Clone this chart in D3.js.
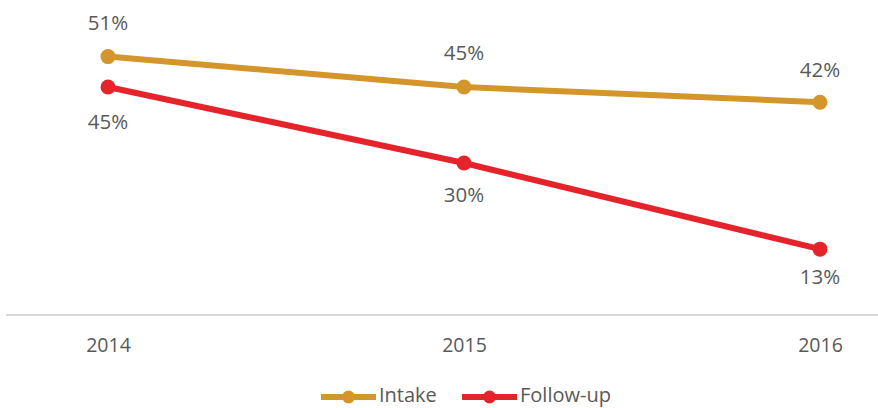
<!DOCTYPE html>
<html>
<head>
<meta charset="utf-8">
<script src="https://cdn.jsdelivr.net/npm/d3@7"></script>
<style>
  html, body { margin: 0; padding: 0; background: #ffffff; }
  svg { display: block; }
  text { font-family: "Open Sans", sans-serif; fill: #595959; }
</style>
</head>
<body>
<svg id="chart" width="878" height="408"></svg>
<script>
const years = ["2014", "2015", "2016"];
const intake = [51, 45, 42];
const followUp = [45, 30, 13];
const seriesNames = ["Intake", "Follow-up"];
const seriesColors = ["#D4952B", "#E4232B"];

// layout: per-point label nudges (pixels), kept separate from data
const intakeLabelDy = [-32, -32, -31];
const followLabelDy = [37, 34, 29];

const svg = d3.select("#chart");
const x = d3.scalePoint().domain(years).range([108, 820]);
const y = d3.scaleLinear().domain([0, 60]).range([315, 11]);

// baseline
svg.append("line")
  .attr("x1", 6).attr("x2", 878)
  .attr("y1", y(0)).attr("y2", y(0))
  .attr("stroke", "#d9d9d9").attr("stroke-width", 2);

// x axis labels
const xAxis = d3.axisBottom(x).tickSize(0).tickPadding(23);
const gx = svg.append("g").attr("transform", `translate(0,${y(0)})`).call(xAxis);
gx.select(".domain").remove();
gx.selectAll("text").attr("font-size", 19.5).style("font-family", '"Open Sans", sans-serif').attr("fill", "#595959");

const series = [
  { name: seriesNames[0], values: intake, color: seriesColors[0], labelDy: intakeLabelDy },
  { name: seriesNames[1], values: followUp, color: seriesColors[1], labelDy: followLabelDy }
];

const line = d3.line().x((d, i) => x(years[i])).y(d => y(d));

series.forEach(s => {
  svg.append("path")
    .datum(s.values)
    .attr("d", line)
    .attr("fill", "none")
    .attr("stroke", s.color)
    .attr("stroke-width", 6)
    .attr("stroke-linejoin", "round");
  svg.selectAll(null).data(s.values).enter().append("circle")
    .attr("cx", (d, i) => x(years[i]))
    .attr("cy", d => y(d))
    .attr("r", 7.5)
    .attr("fill", s.color);
  svg.selectAll(null).data(s.values).enter().append("text")
    .attr("x", (d, i) => x(years[i]))
    .attr("y", (d, i) => y(d) + s.labelDy[i])
    .attr("text-anchor", "middle")
    .attr("dominant-baseline", "middle")
    .attr("font-size", 20.5)
    .text(d => d + "%");
});

// legend
const legendY = 397;
const legendItems = [
  { name: seriesNames[0], color: seriesColors[0], x0: 321 },
  { name: seriesNames[1], color: seriesColors[1], x0: 462 }
];
legendItems.forEach(l => {
  const g = svg.append("g");
  g.append("line").attr("x1", l.x0).attr("x2", l.x0 + 55)
    .attr("y1", legendY).attr("y2", legendY)
    .attr("stroke", l.color).attr("stroke-width", 6);
  g.append("circle").attr("cx", l.x0 + 27.5).attr("cy", legendY).attr("r", 6.5).attr("fill", l.color);
  g.append("text").attr("x", l.x0 + 58).attr("y", legendY)
    .attr("dominant-baseline", "middle")
    .attr("font-size", 20)
    .text(l.name);
});
</script>
</body>
</html>
